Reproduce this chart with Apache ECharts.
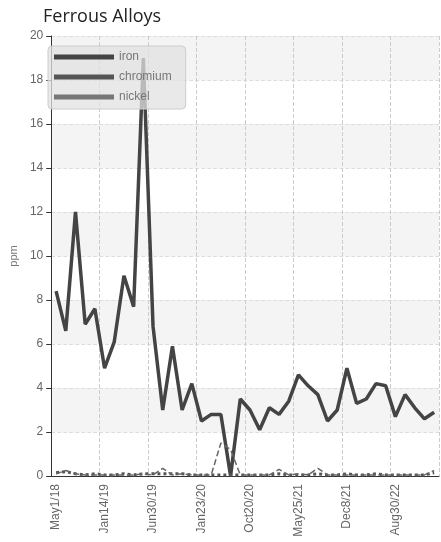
<!DOCTYPE html>
<html><head><meta charset="utf-8">
<script src="https://cdn.jsdelivr.net/npm/echarts@6/dist/echarts.min.js"></script>
<style>html,body{margin:0;padding:0;background:#fff}#c{width:441px;height:542px}</style>
</head><body><div id="c"></div>
<script>
const dates = ["May1/18","Jun22/18","Aug13/18","Oct4/18","Nov25/18","Jan14/19","Mar7/19","Apr28/19","Jun19/19","Aug10/19",
  "Jun30/19","Aug21/19","Oct12/19","Dec3/19","Dec30/19","Jan23/20","Mar15/20","May6/20","Jun27/20","Aug18/20",
  "Oct20/20","Dec11/20","Jan31/21","Mar23/21","May4/21","May25/21","Jul16/21","Sep6/21","Oct28/21","Nov18/21",
  "Dec8/21","Jan29/22","Mar22/22","May13/22","Jul4/22","Aug30/22","Oct21/22","Dec12/22","Feb2/23","Mar26/23"];
const iron = [8.4,6.6,12,6.9,7.6,4.9,6.1,9.1,7.7,19,
  6.8,3.0,5.9,3.0,4.2,2.5,2.8,2.8,0,3.5,
  3.0,2.1,3.1,2.8,3.4,4.6,4.1,3.7,2.5,3.0,
  4.9,3.3,3.5,4.2,4.1,2.7,3.7,3.1,2.6,2.9];
const chromium = [0.15,0.2,0.1,0.05,0.1,0.05,0.05,0.1,0.05,0.1,
  0.1,0.1,0.1,0.1,0.05,0.05,0.05,0.05,0.05,0.05,
  0.05,0.05,0.05,0.1,0.05,0.05,0.05,0.1,0.05,0.05,
  0.1,0.05,0.05,0.1,0.05,0.05,0.05,0.05,0.05,0.15];
const nickel = [0.1,0.25,0.1,0.05,0.05,0.05,0.05,0.05,0.05,0.1,
  0.05,0.35,0.05,0.1,0.05,0.05,0.05,1.5,1.2,0.05,
  0.05,0.05,0.05,0.3,0.05,0.1,0.05,0.35,0.05,0.05,
  0.05,0.05,0.05,0.05,0.05,0.05,0.05,0.05,0.05,0.25];

const chart = echarts.init(document.getElementById("c"));
chart.setOption({
  animation: false,
  title: { text: "Ferrous Alloys", left: 38, top: 3, textStyle: { fontFamily: "Open Sans", fontSize: 18, fontWeight: "normal", color: "#222" } },
  legend: {
    orient: "vertical", left: 48, top: 46, itemWidth: 60, itemHeight: 5, itemGap: 8, icon: "rect",
    backgroundColor: "rgba(225,225,225,0.75)", borderColor: "#ccc", borderWidth: 1, borderRadius: 4,
    padding: [5, 14, 6, 6], textStyle: { color: "#777", fontSize: 12 }
  },
  grid: { left: 42, right: 2, top: 36, bottom: 66 },
  xAxis: {
    type: "category", data: dates, boundaryGap: ["2.5%", "0%"],
    axisLine: { lineStyle: { color: "#333" } },
    axisTick: { interval: 4, lineStyle: { color: "#333" } },
    axisLabel: { interval: 4, rotate: 90, color: "#666", fontSize: 12 },
    splitLine: { show: true, interval: 4, lineStyle: { type: "dashed", color: "#ccc" } }
  },
  yAxis: {
    type: "value", min: 0, max: 20, interval: 2, name: "ppm", nameLocation: "middle", nameGap: 27,
    nameTextStyle: { color: "#777", fontSize: 11 },
    axisLine: { show: true, lineStyle: { color: "#333" } },
    axisTick: { show: true },
    axisLabel: { color: "#666", fontSize: 12 },
    splitLine: { lineStyle: { type: "dashed", color: "#ddd" } },
    splitArea: { show: true, areaStyle: { color: ["#fff", "#f4f4f4"] } }
  },
  series: [
    { name: "iron", type: "line", data: iron, symbol: "none", lineStyle: { width: 3.5, color: "#444" }, itemStyle: { color: "#444" } },
    { name: "chromium", type: "line", data: chromium, symbol: "none", lineStyle: { width: 3, color: "#555", type: "dotted" }, itemStyle: { color: "#555" } },
    { name: "nickel", type: "line", data: nickel, symbol: "none", lineStyle: { width: 1.5, color: "#666", type: "dashed" }, itemStyle: { color: "#777" } }
  ]
});
</script></body></html>
